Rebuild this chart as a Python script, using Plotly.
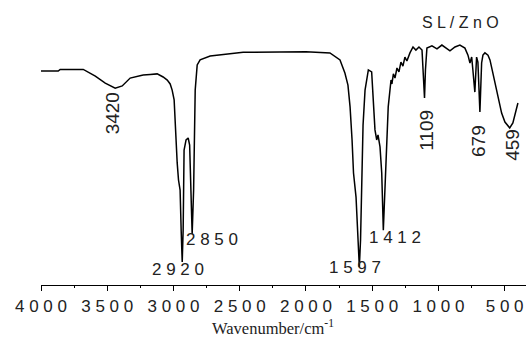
import plotly.graph_objects as go

# Spectrum (wavenumber cm-1, transmittance %)
wavenumber = [4000, 3870, 3855, 3681, 3590, 3515, 3440, 3387, 3327, 3229, 3176, 3123, 3078,
              3047, 3025, 3010, 2995, 2985, 2972, 2962, 2950, 2942, 2934, 2927, 2920, 2905,
              2889, 2878, 2867, 2859, 2848, 2836, 2821, 2799, 2723, 2572, 2474, 2000, 1819,
              1743, 1706, 1683, 1667, 1652, 1641, 1622, 1607, 1597, 1588, 1579, 1569, 1554,
              1529, 1504, 1492, 1479, 1466, 1456, 1441, 1428, 1416, 1403, 1392, 1379, 1358,
              1351, 1340, 1328, 1313, 1298, 1283, 1268, 1253, 1238, 1215, 1192, 1170, 1147,
              1124, 1113, 1105, 1098, 1087, 1049, 1011, 974, 936, 913, 875, 838, 800, 777,
              762, 749, 740, 725, 712, 702, 687, 674, 664, 649, 626, 611, 589, 566, 551, 523,
              498, 462, 438, 415, 400]
transmittance = [76.4, 76.4, 77.0, 77.0, 74.6, 72.1, 70.3, 71.1, 73.9, 75.0, 75.2, 75.4, 74.3,
                 73.2, 71.8, 69.6, 66.1, 55.4, 43.6, 37.5, 33.9, 19.6, 8.2, 19.6, 48.2, 51.8,
                 52.5, 50.0, 33.9, 18.2, 33.9, 69.6, 78.6, 80.4, 81.8, 82.5, 83.1, 83.3, 82.9,
                 80.4, 75.7, 71.4, 63.6, 51.8, 40.0, 31.4, 16.1, 6.4, 16.1, 40.0, 57.1, 69.6,
                 76.8, 76.1, 63.6, 55.4, 51.8, 53.6, 49.3, 40.0, 19.6, 36.4, 51.8, 63.6, 73.2,
                 71.8, 75.4, 73.9, 77.5, 76.1, 79.6, 78.2, 81.4, 80.0, 82.9, 85.0, 83.9, 85.0,
                 83.9, 75.0, 66.8, 76.8, 84.6, 85.4, 84.3, 85.7, 84.3, 83.6, 85.0, 85.7, 84.6, 82.1,
                 79.3, 81.4, 76.8, 68.9, 81.4, 79.6, 61.8, 79.3, 82.1, 82.9, 82.1, 80.4, 75.7,
                 70.4, 67.1, 61.4, 58.2, 56.1, 57.9, 62.5, 65.0]

# Peak labels: text, x (cm-1), y (%), angle
label_text = ["3420", "1109", "679", "459", "2 9 2 0", "2 8 5 0", "1 5 9 7", "1 4 1 2"]
label_x = [3462, 1087, 702, 446, 2965, 2713, 1630, 1330]
label_y = [61.4, 55.4, 51.4, 50.0, 5.4, 16.1, 6.1, 16.8]
label_angle = [-90, -90, -90, -90, 0, 0, 0, 0]
label_size = [19, 19, 19, 19, 17, 17, 17, 17]

tick_vals = [4000, 3500, 3000, 2500, 2000, 1500, 1000, 500]
tick_text = ["4 0 0 0", "3 5 0 0", "3 0 0 0", "2 5 0 0", "2 0 0 0", "1 5 0 0", "1 0 0 0", "5 0 0"]

fig = go.Figure()
fig.add_trace(go.Scatter(x=wavenumber, y=transmittance, mode="lines",
                         line=dict(color="black", width=1.5), showlegend=False,
                         hoverinfo="skip"))

sans = "Liberation Sans, Arial, sans-serif"
for t, xv, yv, a, s in zip(label_text, label_x, label_y, label_angle, label_size):
    fig.add_annotation(x=xv, y=yv, xref="x", yref="y", text=t, textangle=a,
                       showarrow=False, font=dict(family=sans, size=s, color="#222"),
                       xanchor="center", yanchor="middle")

fig.add_annotation(x=835, y=93.6, xref="x", yref="y", text="S L / Z n O",
                   showarrow=False, font=dict(family=sans, size=16, color="#222"),
                   xanchor="center", yanchor="middle")

fig.add_annotation(x=0.478, y=-0.150, xref="paper", yref="paper",
                   text="Wavenumber/cm<sup>-1</sup>", showarrow=False,
                   font=dict(family="Liberation Serif, Times New Roman, serif", size=16.5, color="#222"),
                   xanchor="center", yanchor="middle")

fig.update_xaxes(range=[4000, 339], tickvals=tick_vals, ticktext=tick_text,
                 ticks="outside", ticklen=5, tickwidth=1, tickcolor="black",
                 showline=True, linecolor="black", linewidth=1.3, showgrid=False,
                 zeroline=False, tickfont=dict(family=sans, size=17, color="#222"),
                 minor=dict(dtick=250, tick0=0, ticks="outside", ticklen=2, tickcolor="black"),
                 automargin=False)
fig.update_yaxes(range=[0, 100], visible=False, showgrid=False, zeroline=False,
                 automargin=False)

fig.update_layout(width=526, height=339, margin=dict(l=41, r=0, t=5, b=54),
                  paper_bgcolor="white", plot_bgcolor="white")

fig.write_html("out.html")
